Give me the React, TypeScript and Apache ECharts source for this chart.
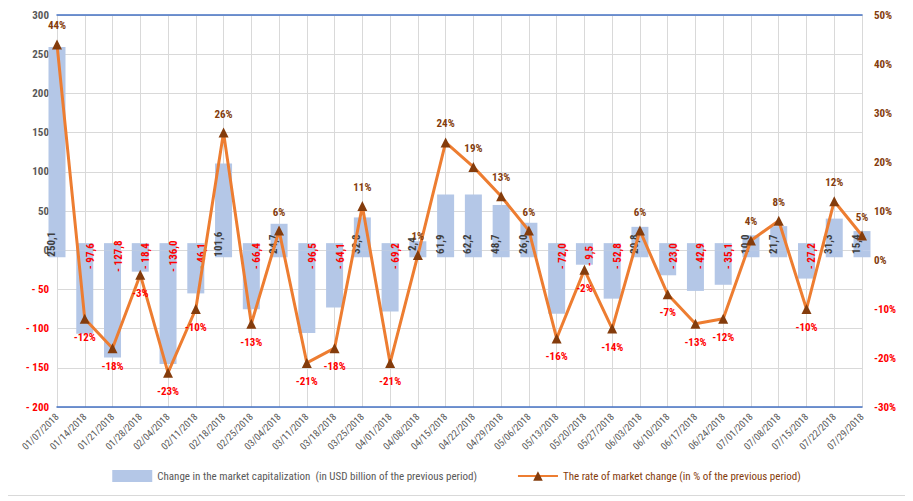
import React, { useEffect, useRef } from 'react';
import * as echarts from 'echarts';

const dates = [
  '01/07/2018', '01/14/2018', '01/21/2018', '01/28/2018', '02/04/2018', '02/11/2018', '02/18/2018', '02/25/2018',
  '03/04/2018', '03/11/2018', '03/18/2018', '03/25/2018', '04/01/2018', '04/08/2018', '04/15/2018', '04/22/2018',
  '04/29/2018', '05/06/2018', '05/13/2018', '05/20/2018', '05/27/2018', '06/03/2018', '06/10/2018', '06/17/2018',
  '06/24/2018', '07/01/2018', '07/08/2018', '07/15/2018', '07/22/2018', '07/29/2018',
];
const capChange = [
  250.1, -97.6, -127.8, -18.4, -136.0, -46.1, 101.6, -66.4, 24.7, -96.5, -64.1, 32.8, -69.2, 2.4, 61.9, 62.2,
  48.7, 26.0, -72.0, -9.5, -52.8, 20.8, -23.0, -42.9, -35.1, 10.0, 21.7, -27.2, 31.3, 15.4,
];
const rateChange = [
  44, -12, -18, -3, -23, -10, 26, -13, 6, -21, -18, 11, -21, 1, 24, 19, 13, 6, -16, -2, -14, 6, -7, -13, -12, 4, 8,
  -10, 12, 5,
];

const BAR_NAME = 'Change in the market capitalization  (in USD billion of the previous period)';
const LINE_NAME = 'The rate of market change (in % of the previous period)';
const FONT = '"Liberation Sans Narrow", "Roboto Condensed", "DejaVu Sans Condensed", sans-serif';
const BROWN = '#843c0c';
const RED = '#ff0000';
const BAR = '#b4c7e7';
const PAD = 9; // Excel draws the columns a bit past zero on both sides

const fmt = (v: number) => (v < 0 ? '- ' + Math.abs(v).toFixed(1) : v.toFixed(1)).replace('.', ',');

const App: React.FC = () => {
  const ref = useRef<HTMLDivElement | null>(null);

  useEffect(() => {
    if (!ref.current) return;
    const chart = echarts.init(ref.current, null, { renderer: 'svg' });

    const axisLine = { show: true, onZero: false, lineStyle: { color: '#4472c4', width: 1.5 } };

    chart.setOption({
      animation: false,
      graphic: [
        { type: 'rect', shape: { x: 5.5, y: 2.5, width: 902, height: 493 }, style: { fill: 'none', stroke: '#d9d9d9' } },
      ],
      grid: { left: 57, right: 51, top: 15, bottom: 94 },
      legend: {
        bottom: 14,
        itemGap: 40,
        itemWidth: 40,
        itemHeight: 12,
        textStyle: { fontFamily: FONT, fontSize: 11 },
        data: [
          { name: BAR_NAME, icon: 'rect', itemStyle: { color: BAR }, textStyle: { color: '#595959' } },
          { name: LINE_NAME, textStyle: { color: BROWN } },
        ],
      },
      xAxis: [
        {
          type: 'category',
          data: dates,
          boundaryGap: false,
          axisLine,
          axisTick: { show: false },
          splitLine: { show: true, lineStyle: { color: '#d9d9d9' } },
          axisLabel: { rotate: 45, color: '#595959', fontFamily: FONT, fontSize: 10, interval: 0, margin: 8 },
        },
        {
          type: 'category',
          data: dates,
          position: 'top',
          boundaryGap: false,
          axisLine,
          axisTick: { show: false },
          axisLabel: { show: false },
        },
      ],
      yAxis: [
        {
          type: 'value',
          min: -200,
          max: 300,
          interval: 50,
          axisLine: { show: false },
          splitLine: { lineStyle: { color: '#d9d9d9' } },
          axisLabel: {
            fontFamily: FONT,
            fontSize: 11,
            fontWeight: 'bold',
            formatter: (v: number) => (v < 0 ? '- ' + Math.abs(v) : String(v)),
            color: (v: any) => (Number(v) < 0 ? RED : '#595959'),
          },
        },
        {
          type: 'value',
          min: -30,
          max: 50,
          interval: 10,
          splitLine: { show: false },
          axisLine: { show: true, lineStyle: { color: '#d9d9d9' } },
          axisLabel: {
            fontFamily: FONT,
            fontSize: 11,
            fontWeight: 'bold',
            margin: 12,
            formatter: (v: number) => v + '%',
            color: (v: any) => (Number(v) < 0 ? RED : BROWN),
          },
        },
      ],
      series: [
        {
          name: BAR_NAME,
          type: 'bar',
          stack: 'cap',
          barWidth: 17,
          itemStyle: { color: BAR },
          data: capChange.map((v) => (v >= 0 ? -PAD : PAD)),
        },
        {
          name: BAR_NAME,
          type: 'bar',
          stack: 'cap',
          barWidth: 17,
          itemStyle: { color: BAR },
          label: {
            show: true,
            rotate: 90,
            distance: 6,
            fontFamily: FONT,
            fontSize: 11,
            fontWeight: 'bold',
            formatter: (p: any) => fmt(capChange[p.dataIndex]),
          },
          data: capChange.map((v) => ({
            value: v >= 0 ? v + PAD : v - PAD,
            label: { color: v >= 0 ? '#404040' : RED, position: v >= 0 ? 'insideBottom' : 'insideTop' },
          })),
        },
        {
          name: LINE_NAME,
          type: 'line',
          yAxisIndex: 1,
          data: rateChange.map((v) => ({
            value: v,
            label: { position: v >= 0 ? 'top' : 'bottom', color: v >= 0 ? BROWN : RED },
          })),
          lineStyle: { color: '#ed7d31', width: 3 },
          itemStyle: { color: BROWN },
          symbol: 'triangle',
          symbolSize: 10,
          label: {
            show: true,
            distance: 8,
            fontFamily: FONT,
            fontSize: 11,
            fontWeight: 'bold',
            formatter: (p: any) => p.value + '%',
          },
          z: 5,
        },
      ],
    });
    return () => chart.dispose();
  }, []);

  return <div ref={ref} style={{ width: 913, height: 501, margin: '-8px 0 0 -8px' }} />;
};

export default App;
